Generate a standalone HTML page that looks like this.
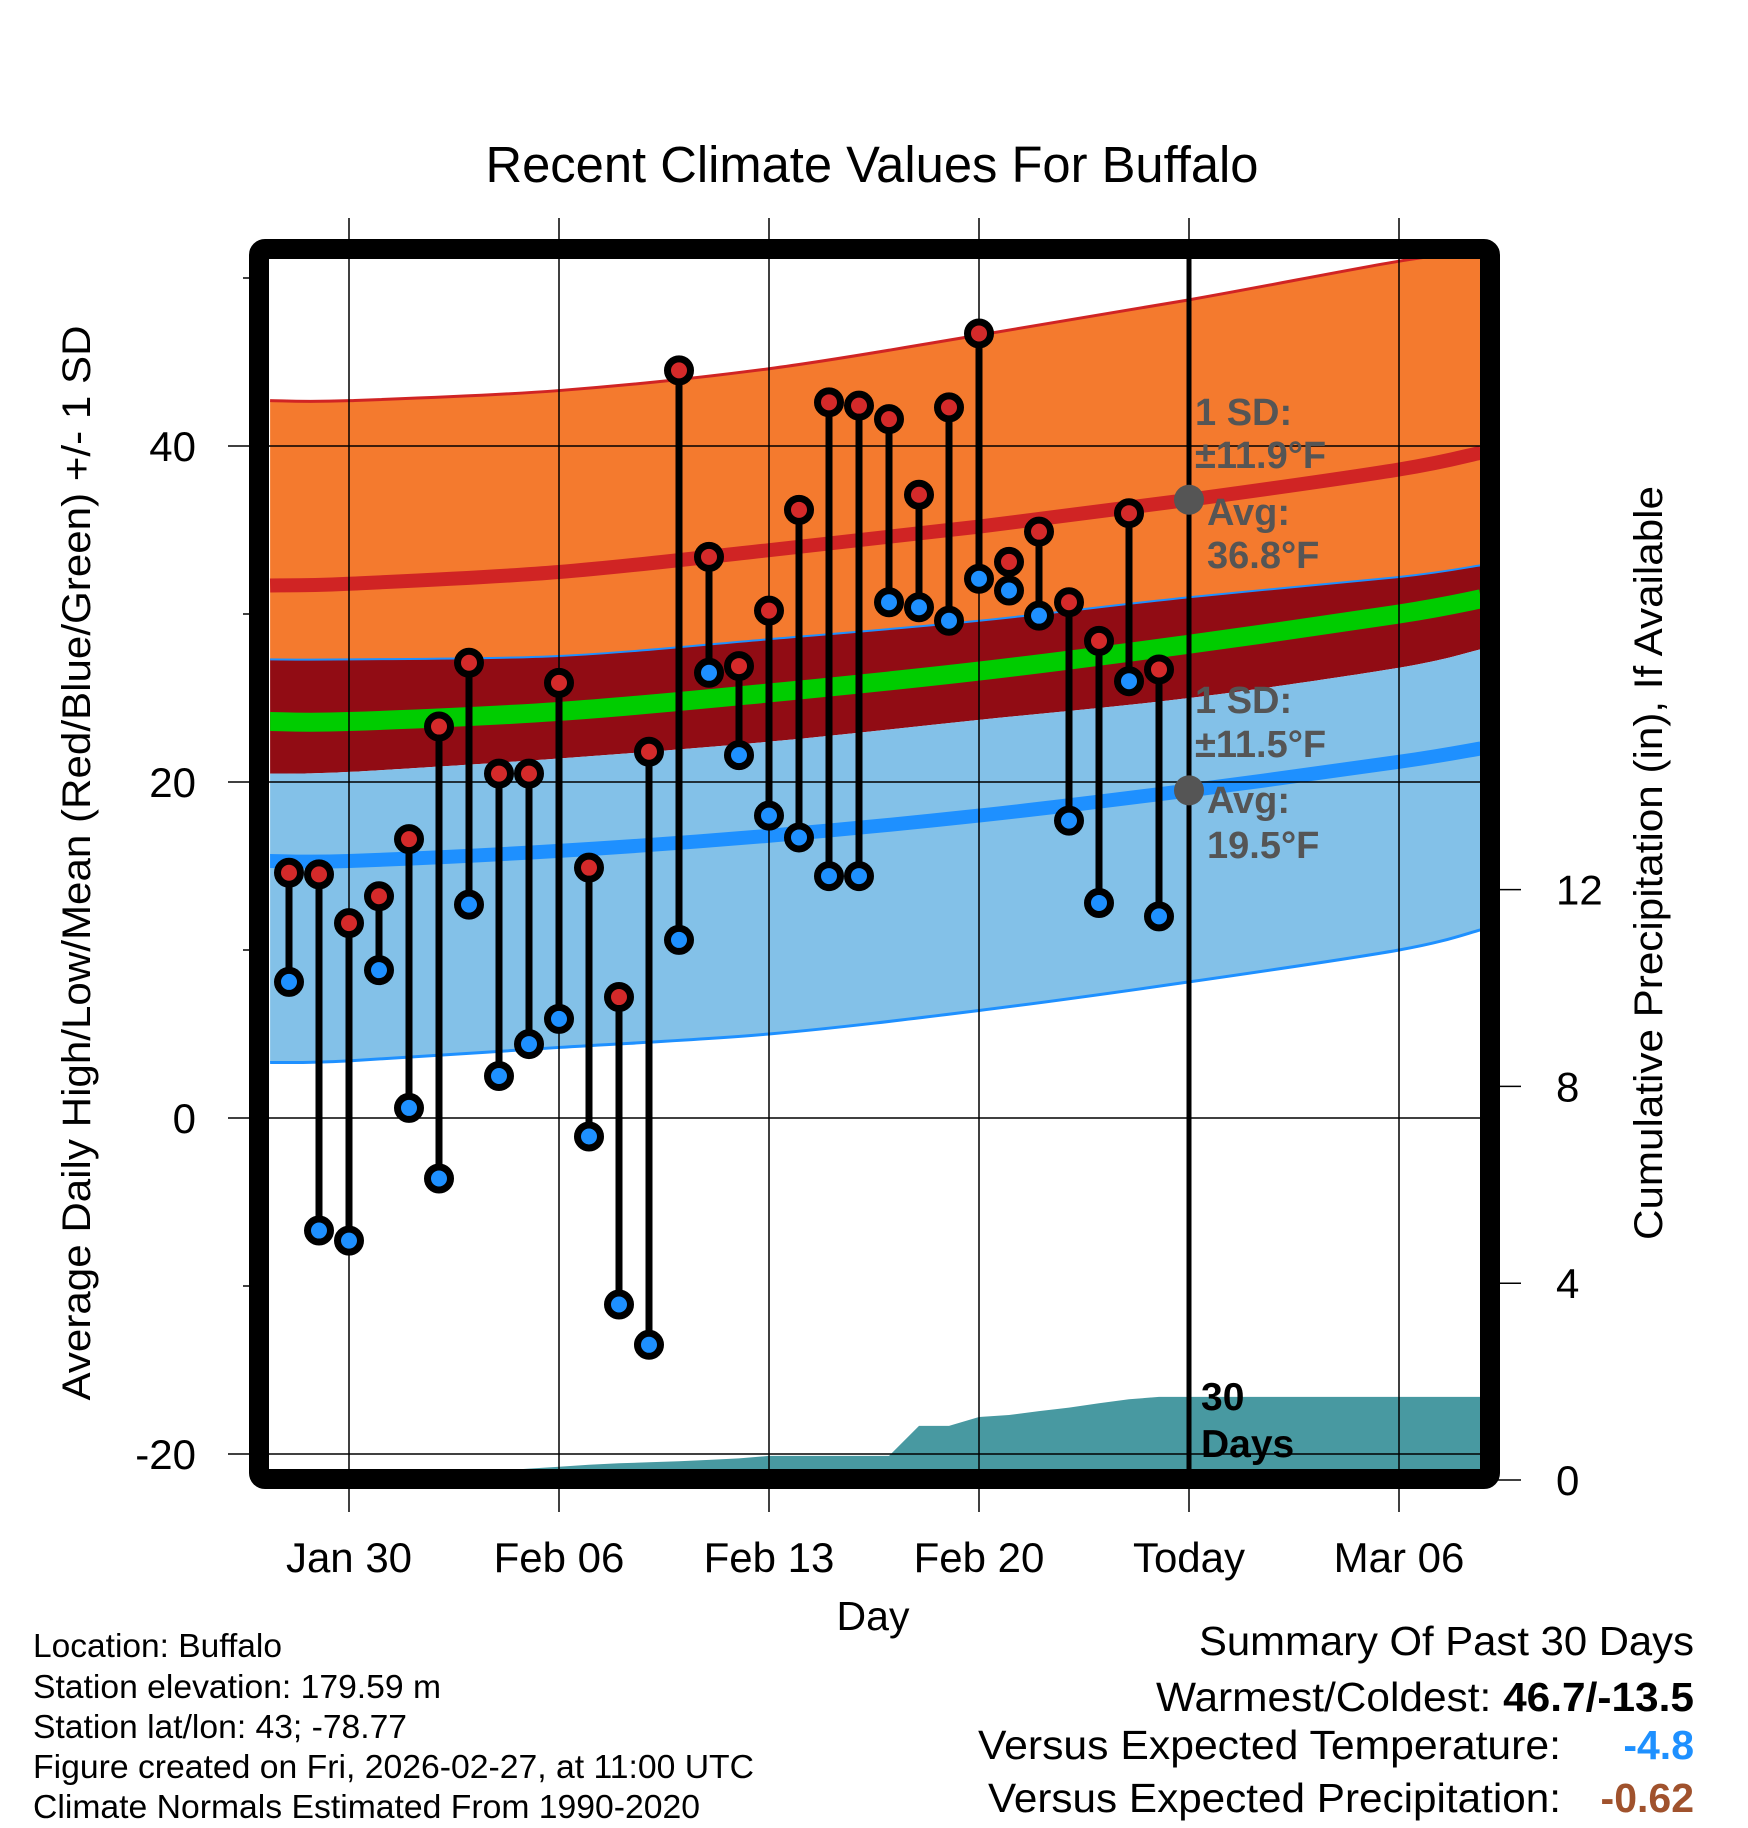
<!DOCTYPE html>
<html><head><meta charset="utf-8"><style>
html,body{margin:0;padding:0;background:#fff;}
svg{display:block;font-family:"Liberation Sans",Arial,sans-serif;}
</style></head><body>
<svg id="chart" width="1748" height="1828" viewBox="0 0 1748 1828" xmlns="http://www.w3.org/2000/svg">
<defs><clipPath id="plotclip"><rect x="269" y="259" width="1213" height="1212"/></clipPath></defs>
<text x="872" y="182" font-size="51" text-anchor="middle" textLength="773" lengthAdjust="spacingAndGlyphs">Recent Climate Values For Buffalo</text>
<g id="bands" clip-path="url(#plotclip)"></g>
<g id="grid"></g>
<g id="marks" clip-path="url(#plotclip)"></g>
<g id="annot"></g>
<rect x="259" y="249" width="1231" height="1230" rx="6" fill="none" stroke="#000" stroke-width="20"/>
<g id="axes"></g>
<text x="873" y="1630" font-size="41" text-anchor="middle">Day</text>
<text transform="translate(90,863) rotate(-90)" font-size="40" text-anchor="middle" textLength="1075" lengthAdjust="spacingAndGlyphs">Average Daily High/Low/Mean (Red/Blue/Green) +/- 1 SD</text>
<text transform="translate(1662,863) rotate(-90)" font-size="40" text-anchor="middle" textLength="754" lengthAdjust="spacingAndGlyphs">Cumulative Precipitation (in), If Available</text>
<g font-size="33">
<text x="33" y="1657" textLength="249" lengthAdjust="spacingAndGlyphs">Location: Buffalo</text>
<text x="33" y="1698" textLength="408" lengthAdjust="spacingAndGlyphs">Station elevation: 179.59 m</text>
<text x="33" y="1738" textLength="374" lengthAdjust="spacingAndGlyphs">Station lat/lon: 43; -78.77</text>
<text x="33" y="1778" textLength="721" lengthAdjust="spacingAndGlyphs">Figure created on Fri, 2026-02-27, at 11:00 UTC</text>
<text x="33" y="1818" textLength="667" lengthAdjust="spacingAndGlyphs">Climate Normals Estimated From 1990-2020</text>
</g>
<g font-size="41" text-anchor="end">
<text x="1694" y="1655" textLength="495" lengthAdjust="spacingAndGlyphs">Summary Of Past 30 Days</text>
<text x="1694" y="1711" textLength="538" lengthAdjust="spacingAndGlyphs">Warmest/Coldest: <tspan font-weight="bold">46.7/-13.5</tspan></text>
<text x="1561" y="1759" textLength="583" lengthAdjust="spacingAndGlyphs">Versus Expected Temperature:</text>
<text x="1694" y="1759" font-weight="bold" fill="#1e90ff">-4.8</text>
<text x="1561" y="1812" textLength="573" lengthAdjust="spacingAndGlyphs">Versus Expected Precipitation:</text>
<text x="1694" y="1812" font-weight="bold" fill="#a0522d">-0.62</text>
</g>
</svg>
<script>
// ---- data ----
const dayLabels = ["Jan 30","Feb 06","Feb 13","Feb 20","Today","Mar 06"];
const tempTicks = [40,20,0,-20];
const minorTicks = [50,30,10,-10];
const precipTicks = [0,4,8,12];
// daily observations, Jan 28 .. Feb 26
const highs = [14.6,14.5,11.6,13.2,16.6,23.3,27.1,20.5,20.5,25.9,14.9,7.2,21.8,44.5,33.4,26.9,30.2,36.2,42.6,42.4,41.6,37.1,42.3,46.7,33.1,34.9,30.7,28.4,36.0,26.7];
const lows  = [8.1,-6.7,-7.3,8.8,0.6,-3.6,12.7,2.5,4.4,5.9,-1.1,-11.1,-13.5,10.6,26.5,21.6,18.0,16.7,14.4,14.4,30.7,30.4,29.6,32.1,31.4,29.9,17.7,12.8,26.0,12.0];
const precip = [0.02,0.04,0.06,0.08,0.10,0.13,0.16,0.19,0.23,0.27,0.31,0.34,0.36,0.38,0.41,0.44,0.49,0.49,0.49,0.49,0.49,1.10,1.10,1.28,1.32,1.40,1.47,1.56,1.64,1.69];
// normals at anchor days (days since Jan 28)
const normDays = [-0.63,2,9,16,23,30,37,39.73];
const normHigh = [31.7,31.8,32.5,33.8,35.2,36.8,38.6,39.6];
const normLow  = [15.3,15.3,15.9,16.8,18.0,19.5,21.2,22.0];
const normMean = [23.6,23.6,24.2,25.3,26.6,28.2,30.0,30.9];
const highPlus = [42.7,42.7,43.3,44.6,46.6,48.7,51.0,51.6];
const highMinus= [27.3,27.3,27.5,28.5,29.6,31.0,32.2,32.9];
const lowPlus  = [20.5,20.6,21.4,22.4,23.7,25.0,26.8,27.9];
const lowMinus = [3.3,3.4,4.2,5.0,6.4,8.1,10.0,11.2];
const todayDay = 30;
// ---- scales ----
const X = d => 289 + 30*d;
const Y = v => 446 + (40 - v)*16.8;
const P = p => 1480 - 49.2*p;
const NS = "http://www.w3.org/2000/svg";
function mk(parent, tag, attrs){const e=document.createElementNS(NS,tag);for(const k in attrs)e.setAttribute(k,attrs[k]);parent.appendChild(e);return e;}
function curve(days, vals, start){
  const pts = days.map((d,i)=>[X(d),Y(vals[i])]);
  let s = `${start}${pts[0][0]},${pts[0][1]}`;
  for(let i=0;i<pts.length-1;i++){
    const p0=pts[Math.max(0,i-1)],p1=pts[i],p2=pts[i+1],p3=pts[Math.min(pts.length-1,i+2)];
    const c1=[p1[0]+(p2[0]-p0[0])/6,p1[1]+(p2[1]-p0[1])/6];
    const c2=[p2[0]-(p3[0]-p1[0])/6,p2[1]-(p3[1]-p1[1])/6];
    s+=` C${c1[0]},${c1[1]} ${c2[0]},${c2[1]} ${p2[0]},${p2[1]}`;
  }
  return s;
}
const smooth = vals => curve(normDays, vals, 'M');
const reversePath = vals => curve(normDays.slice().reverse(), vals.slice().reverse(), 'L') + 'Z';
const bands = document.getElementById('bands');
let e;
e = mk(bands,'path',{d:smooth(highPlus)+reversePath(highMinus),fill:'#f47a2e'});
 
e = mk(bands,'path',{d:smooth(highMinus)+reversePath(lowPlus),fill:'#910c14'});
 
e = mk(bands,'path',{d:smooth(lowPlus)+reversePath(lowMinus),fill:'#83c1e8'});
 
e = mk(bands,'path',{d:smooth(highPlus),fill:'none',stroke:'#d02424','stroke-width':3});
 
e = mk(bands,'path',{d:smooth(highMinus),fill:'none',stroke:'#1e90ff','stroke-width':2});
 
e = mk(bands,'path',{d:smooth(lowMinus),fill:'none',stroke:'#1e90ff','stroke-width':3});
 
e = mk(bands,'path',{d:smooth(normHigh),fill:'none',stroke:'#d02424','stroke-width':14});
 
e = mk(bands,'path',{d:smooth(normLow),fill:'none',stroke:'#1e90ff','stroke-width':14});
 
e = mk(bands,'path',{d:smooth(normMean),fill:'none',stroke:'#00cc00','stroke-width':19});
 
// precip area
let pd = `M${X(-1)},${P(0)}`;
precip.forEach((p,i)=>{pd+=` L${X(i)},${P(p)}`;});
pd += ` L1482,${P(precip[precip.length-1])} L1482,${P(0)} Z`;
e = mk(bands,'path',{d:pd,fill:'#4899a1'});
 
// grid
const grid = document.getElementById('grid');
dayLabels.forEach((lab,i)=>{
  const x = X(2+7*i);
  const l = mk(grid,'line',{x1:x,y1:218,x2:x,y2:1512,stroke:'#000','stroke-width':1.5});
   
  const t = mk(grid,'text',{x:x,y:1572,'font-size':42,'text-anchor':'middle'});
  t.textContent = lab;
   
});
tempTicks.forEach(v=>{
  const y=Y(v);
  const l = mk(grid,'line',{x1:228,y1:y,x2:1482,y2:y,stroke:'#000','stroke-width':1.5});
   
  const t = mk(grid,'text',{x:196,y:y+15,'font-size':42,'text-anchor':'end'});
  t.textContent = v;
   
});
minorTicks.forEach(v=>{
  const l = mk(grid,'line',{x1:243,y1:Y(v),x2:250,y2:Y(v),stroke:'#000','stroke-width':1.5});
   
});
precipTicks.forEach(p=>{
  const l = mk(grid,'line',{x1:1495,y1:P(p),x2:1521,y2:P(p),stroke:'#000','stroke-width':1.5});
   
  const t = mk(grid,'text',{x:1556,y:P(p)+15,'font-size':42});
  t.textContent = p;
   
});
// marks
const marks = document.getElementById('marks');
const tl = mk(marks,'line',{x1:X(todayDay),y1:255,x2:X(todayDay),y2:1475,stroke:'#000','stroke-width':5});
 
highs.forEach((h,i)=>{
  const x=X(i);
  const s = mk(marks,'line',{x1:x,y1:Y(h),x2:x,y2:Y(lows[i]),stroke:'#000','stroke-width':7});
   
});
highs.forEach((h,i)=>{
  const x=X(i);
  const c1 = mk(marks,'circle',{cx:x,cy:Y(h),r:11.5,fill:'#d42a2a',stroke:'#000','stroke-width':7});
   
  const c2 = mk(marks,'circle',{cx:x,cy:Y(lows[i]),r:11.5,fill:'#1e90ff',stroke:'#000','stroke-width':7});
   
});
// annotations
const an = document.getElementById('annot');
const todayHigh = normHigh[5], todayLow = normLow[5];
let c = mk(an,'circle',{cx:X(todayDay),cy:Y(todayHigh),r:15,fill:'#555'});
 
c = mk(an,'circle',{cx:X(todayDay),cy:Y(todayLow),r:15,fill:'#555'});
 
const notes = [
 ["high-sd-label","1 SD:",1195,425],["high-sd-value","±11.9°F",1195,468],
 ["high-avg-label","Avg:",1207,525],["high-avg-value","36.8°F",1207,568],
 ["low-sd-label","1 SD:",1195,713],["low-sd-value","±11.5°F",1195,757],
 ["low-avg-label","Avg:",1207,813],["low-avg-value","19.5°F",1207,858]];
notes.forEach(n=>{
  const t = mk(an,'text',{x:n[2],y:n[3],'font-size':38,'font-weight':'bold',fill:'#555'});
  t.textContent = n[1];
   
});
let t = mk(an,'text',{x:1201,y:1410,'font-size':39,'font-weight':'bold'}); t.textContent='30';
 
t = mk(an,'text',{x:1201,y:1457,'font-size':39,'font-weight':'bold'}); t.textContent='Days';
 
</script>
</body></html>
